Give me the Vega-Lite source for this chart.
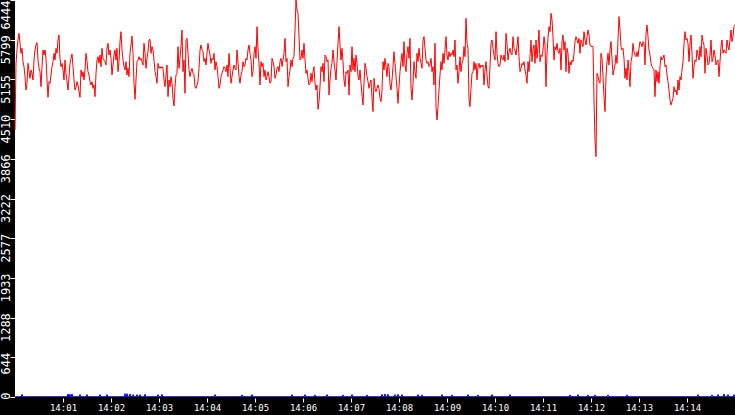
{
  "$schema": "https://vega.github.io/schema/vega-lite/v6.json",
  "width": 720,
  "height": 397,
  "autosize": {"type": "none"},
  "padding": {"left": 15, "top": 0, "right": 0, "bottom": 18},
  "background": "black",
  "view": {"fill": "white", "stroke": null},
  "config": {
    "axis": {
      "labelFont": "DejaVu Sans Mono",
      "labelFontSize": 9,
      "labelColor": "white",
      "tickColor": "white",
      "grid": false,
      "title": null,
      "labelFlush": false,
      "labelBound": false,
      "labelOverlap": false
    }
  },
  "datasets": {
    "red": [
      {"i":0,"v":4334},{"i":1,"v":5416},{"i":2,"v":5633},{"i":3,"v":5795},{"i":4,"v":5903},{"i":5,"v":5741},{"i":6,"v":5578},{"i":7,"v":5660},{"i":8,"v":5443},{"i":9,"v":5362},
      {"i":10,"v":5200},{"i":11,"v":4983},{"i":12,"v":5092},{"i":13,"v":5416},{"i":14,"v":5281},{"i":15,"v":5173},{"i":16,"v":5308},{"i":17,"v":5254},{"i":18,"v":5146},{"i":19,"v":5470},
      {"i":20,"v":5633},{"i":21,"v":5714},{"i":22,"v":5752},{"i":23,"v":5470},{"i":24,"v":5335},{"i":25,"v":5281},{"i":26,"v":5037},{"i":27,"v":5362},{"i":28,"v":5633},{"i":29,"v":5551},
      {"i":30,"v":5633},{"i":31,"v":5497},{"i":32,"v":5146},{"i":33,"v":4864},{"i":34,"v":5119},{"i":35,"v":5092},{"i":36,"v":5227},{"i":37,"v":5362},{"i":38,"v":5443},{"i":39,"v":5578},
      {"i":40,"v":5470},{"i":41,"v":5660},{"i":42,"v":5578},{"i":43,"v":5795},{"i":44,"v":5876},{"i":45,"v":5497},{"i":46,"v":5362},{"i":47,"v":5416},{"i":48,"v":5308},{"i":49,"v":5146},
      {"i":50,"v":5470},{"i":51,"v":5254},{"i":52,"v":5119},{"i":53,"v":4983},{"i":54,"v":5200},{"i":55,"v":5416},{"i":56,"v":5497},{"i":57,"v":5568},{"i":58,"v":5362},{"i":59,"v":5146},
      {"i":60,"v":4983},{"i":61,"v":5027},{"i":62,"v":5119},{"i":63,"v":5064},{"i":64,"v":4956},{"i":65,"v":4864},{"i":66,"v":5308},{"i":67,"v":5200},{"i":68,"v":5281},{"i":69,"v":5146},
      {"i":70,"v":5308},{"i":71,"v":5578},{"i":72,"v":5443},{"i":73,"v":5281},{"i":74,"v":5227},{"i":75,"v":5119},{"i":76,"v":5064},{"i":77,"v":5119},{"i":78,"v":5010},{"i":79,"v":5064},
      {"i":80,"v":4875},{"i":81,"v":5254},{"i":82,"v":5470},{"i":83,"v":5524},{"i":84,"v":5416},{"i":85,"v":5551},{"i":86,"v":5362},{"i":87,"v":5660},{"i":88,"v":5497},{"i":89,"v":5470},
      {"i":90,"v":5443},{"i":91,"v":5389},{"i":92,"v":5660},{"i":93,"v":5741},{"i":94,"v":5551},{"i":95,"v":5633},{"i":96,"v":5497},{"i":97,"v":5227},{"i":98,"v":5389},{"i":99,"v":5551},
      {"i":100,"v":5633},{"i":101,"v":5470},{"i":102,"v":5660},{"i":103,"v":5281},{"i":104,"v":5443},{"i":105,"v":5768},{"i":106,"v":5930},{"i":107,"v":5633},{"i":108,"v":5470},{"i":109,"v":5362},
      {"i":110,"v":5308},{"i":111,"v":5443},{"i":112,"v":5227},{"i":113,"v":5335},{"i":114,"v":5200},{"i":115,"v":5578},{"i":116,"v":5714},{"i":117,"v":5860},{"i":118,"v":5578},{"i":119,"v":5092},
      {"i":120,"v":4832},{"i":121,"v":5146},{"i":122,"v":5443},{"i":123,"v":5470},{"i":124,"v":5524},{"i":125,"v":5470},{"i":126,"v":5497},{"i":127,"v":5443},{"i":128,"v":5389},{"i":129,"v":5741},
      {"i":130,"v":5578},{"i":131,"v":5335},{"i":132,"v":5497},{"i":133,"v":5605},{"i":134,"v":5795},{"i":135,"v":5806},{"i":136,"v":5578},{"i":137,"v":5687},{"i":138,"v":5633},{"i":139,"v":5470},
      {"i":140,"v":5281},{"i":141,"v":5200},{"i":142,"v":5092},{"i":143,"v":5416},{"i":144,"v":5335},{"i":145,"v":5362},{"i":146,"v":5335},{"i":147,"v":5362},{"i":148,"v":5335},{"i":149,"v":5146},
      {"i":150,"v":5037},{"i":151,"v":5227},{"i":152,"v":5389},{"i":153,"v":4875},{"i":154,"v":5146},{"i":155,"v":5037},{"i":156,"v":5200},{"i":157,"v":5092},{"i":158,"v":4848},{"i":159,"v":4724},
      {"i":160,"v":5037},{"i":161,"v":5227},{"i":162,"v":5254},{"i":163,"v":5687},{"i":164,"v":5335},{"i":165,"v":5497},{"i":166,"v":5687},{"i":167,"v":5957},{"i":168,"v":5281},{"i":169,"v":5470},
      {"i":170,"v":4929},{"i":171,"v":5795},{"i":172,"v":5822},{"i":173,"v":5578},{"i":174,"v":5308},{"i":175,"v":5200},{"i":176,"v":5281},{"i":177,"v":5335},{"i":178,"v":5254},{"i":179,"v":5227},
      {"i":180,"v":5037},{"i":181,"v":5010},{"i":182,"v":5064},{"i":183,"v":5119},{"i":184,"v":5335},{"i":185,"v":5633},{"i":186,"v":5714},{"i":187,"v":5633},{"i":188,"v":5605},{"i":189,"v":5443},
      {"i":190,"v":5497},{"i":191,"v":5389},{"i":192,"v":5578},{"i":193,"v":5741},{"i":194,"v":5633},{"i":195,"v":5551},{"i":196,"v":5416},{"i":197,"v":5497},{"i":198,"v":5470},{"i":199,"v":5578},
      {"i":200,"v":5308},{"i":201,"v":5443},{"i":202,"v":5362},{"i":203,"v":5200},{"i":204,"v":5010},{"i":205,"v":5064},{"i":206,"v":5200},{"i":207,"v":5254},{"i":208,"v":5308},{"i":209,"v":5362},
      {"i":210,"v":5335},{"i":211,"v":5281},{"i":212,"v":5389},{"i":213,"v":5200},{"i":214,"v":5578},{"i":215,"v":5335},{"i":216,"v":5092},{"i":217,"v":5200},{"i":218,"v":5308},{"i":219,"v":5389},
      {"i":220,"v":5335},{"i":221,"v":5308},{"i":222,"v":5633},{"i":223,"v":5443},{"i":224,"v":5200},{"i":225,"v":5092},{"i":226,"v":5227},{"i":227,"v":5281},{"i":228,"v":5443},{"i":229,"v":5362},
      {"i":230,"v":5389},{"i":231,"v":5497},{"i":232,"v":5470},{"i":233,"v":5633},{"i":234,"v":5714},{"i":235,"v":5578},{"i":236,"v":5470},{"i":237,"v":5200},{"i":238,"v":5281},{"i":239,"v":5578},
      {"i":240,"v":5687},{"i":241,"v":5497},{"i":242,"v":6011},{"i":243,"v":5633},{"i":244,"v":5416},{"i":245,"v":5064},{"i":246,"v":5443},{"i":247,"v":5362},{"i":248,"v":5416},{"i":249,"v":5200},
      {"i":250,"v":5308},{"i":251,"v":5146},{"i":252,"v":5200},{"i":253,"v":5281},{"i":254,"v":5200},{"i":255,"v":5092},{"i":256,"v":5119},{"i":257,"v":5497},{"i":258,"v":5443},{"i":259,"v":5362},
      {"i":260,"v":5173},{"i":261,"v":5227},{"i":262,"v":5335},{"i":263,"v":5362},{"i":264,"v":5281},{"i":265,"v":5443},{"i":266,"v":5497},{"i":267,"v":5362},{"i":268,"v":5470},{"i":269,"v":5578},
      {"i":270,"v":5822},{"i":271,"v":5443},{"i":272,"v":5497},{"i":273,"v":5037},{"i":274,"v":5200},{"i":275,"v":5308},{"i":276,"v":5470},{"i":277,"v":5362},{"i":278,"v":5497},{"i":279,"v":5524},
      {"i":280,"v":5957},{"i":281,"v":6444},{"i":282,"v":6282},{"i":283,"v":6228},{"i":284,"v":5849},{"i":285,"v":5470},{"i":286,"v":5497},{"i":287,"v":5633},{"i":288,"v":5497},{"i":289,"v":5741},
      {"i":290,"v":5470},{"i":291,"v":5254},{"i":292,"v":5308},{"i":293,"v":5173},{"i":294,"v":5064},{"i":295,"v":5092},{"i":296,"v":5254},{"i":297,"v":5119},{"i":298,"v":5281},{"i":299,"v":5362},
      {"i":300,"v":5092},{"i":301,"v":4983},{"i":302,"v":5064},{"i":303,"v":4670},{"i":304,"v":4794},{"i":305,"v":5037},{"i":306,"v":5362},{"i":307,"v":5281},{"i":308,"v":5416},{"i":309,"v":5119},
      {"i":310,"v":5551},{"i":311,"v":5524},{"i":312,"v":5443},{"i":313,"v":5470},{"i":314,"v":4902},{"i":315,"v":5146},{"i":316,"v":5335},{"i":317,"v":5416},{"i":318,"v":5633},{"i":319,"v":5443},
      {"i":320,"v":5308},{"i":321,"v":5146},{"i":322,"v":5443},{"i":323,"v":5741},{"i":324,"v":6011},{"i":325,"v":5714},{"i":326,"v":5470},{"i":327,"v":5660},{"i":328,"v":5443},{"i":329,"v":5146},
      {"i":330,"v":5037},{"i":331,"v":5281},{"i":332,"v":5254},{"i":333,"v":5308},{"i":334,"v":4902},{"i":335,"v":5389},{"i":336,"v":5281},{"i":337,"v":5687},{"i":338,"v":5308},{"i":339,"v":5497},
      {"i":340,"v":5281},{"i":341,"v":5551},{"i":342,"v":5416},{"i":343,"v":5200},{"i":344,"v":5146},{"i":345,"v":5308},{"i":346,"v":5092},{"i":347,"v":4902},{"i":348,"v":4740},{"i":349,"v":5092},
      {"i":350,"v":5416},{"i":351,"v":5335},{"i":352,"v":5200},{"i":353,"v":5119},{"i":354,"v":5010},{"i":355,"v":5092},{"i":356,"v":5146},{"i":357,"v":4848},{"i":358,"v":4632},{"i":359,"v":5173},
      {"i":360,"v":5010},{"i":361,"v":4956},{"i":362,"v":5010},{"i":363,"v":5064},{"i":364,"v":5010},{"i":365,"v":4848},{"i":366,"v":4794},{"i":367,"v":4983},{"i":368,"v":5443},{"i":369,"v":5308},
      {"i":370,"v":5497},{"i":371,"v":5362},{"i":372,"v":5200},{"i":373,"v":5416},{"i":374,"v":5362},{"i":375,"v":5064},{"i":376,"v":4983},{"i":377,"v":5146},{"i":378,"v":5362},{"i":379,"v":5605},
      {"i":380,"v":5416},{"i":381,"v":5200},{"i":382,"v":5010},{"i":383,"v":4767},{"i":384,"v":5037},{"i":385,"v":5281},{"i":386,"v":5443},{"i":387,"v":5578},{"i":388,"v":5362},{"i":389,"v":5768},
      {"i":390,"v":5389},{"i":391,"v":5281},{"i":392,"v":5578},{"i":393,"v":5687},{"i":394,"v":5497},{"i":395,"v":5822},{"i":396,"v":5010},{"i":397,"v":4821},{"i":398,"v":5092},{"i":399,"v":5443},
      {"i":400,"v":5281},{"i":401,"v":5173},{"i":402,"v":5578},{"i":403,"v":5443},{"i":404,"v":5660},{"i":405,"v":5497},{"i":406,"v":5416},{"i":407,"v":5335},{"i":408,"v":5795},{"i":409,"v":5849},
      {"i":410,"v":5660},{"i":411,"v":5470},{"i":412,"v":5416},{"i":413,"v":5443},{"i":414,"v":5362},{"i":415,"v":5389},{"i":416,"v":5497},{"i":417,"v":5281},{"i":418,"v":5362},{"i":419,"v":5064},
      {"i":420,"v":5741},{"i":421,"v":4713},{"i":422,"v":4496},{"i":423,"v":4713},{"i":424,"v":4983},{"i":425,"v":5227},{"i":426,"v":5443},{"i":427,"v":5308},{"i":428,"v":5578},{"i":429,"v":5416},
      {"i":430,"v":5633},{"i":431,"v":5849},{"i":432,"v":5551},{"i":433,"v":5470},{"i":434,"v":5605},{"i":435,"v":5524},{"i":436,"v":5578},{"i":437,"v":5551},{"i":438,"v":5633},{"i":439,"v":5524},
      {"i":440,"v":5795},{"i":441,"v":5308},{"i":442,"v":5389},{"i":443,"v":5092},{"i":444,"v":5281},{"i":445,"v":5524},{"i":446,"v":5281},{"i":447,"v":5416},{"i":448,"v":5470},{"i":449,"v":5687},
      {"i":450,"v":5524},{"i":451,"v":6146},{"i":452,"v":5741},{"i":453,"v":5660},{"i":454,"v":4821},{"i":455,"v":4713},{"i":456,"v":5010},{"i":457,"v":5254},{"i":458,"v":5281},{"i":459,"v":5443},
      {"i":460,"v":5308},{"i":461,"v":5416},{"i":462,"v":5146},{"i":463,"v":5362},{"i":464,"v":5416},{"i":465,"v":5335},{"i":466,"v":5389},{"i":467,"v":5362},{"i":468,"v":5389},{"i":469,"v":5064},
      {"i":470,"v":5308},{"i":471,"v":5443},{"i":472,"v":5227},{"i":473,"v":5037},{"i":474,"v":5010},{"i":475,"v":5362},{"i":476,"v":5741},{"i":477,"v":5795},{"i":478,"v":5660},{"i":479,"v":5551},
      {"i":480,"v":5470},{"i":481,"v":5930},{"i":482,"v":5578},{"i":483,"v":5416},{"i":484,"v":5362},{"i":485,"v":5389},{"i":486,"v":5551},{"i":487,"v":5497},{"i":488,"v":5470},{"i":489,"v":5551},
      {"i":490,"v":5443},{"i":491,"v":5903},{"i":492,"v":5741},{"i":493,"v":5470},{"i":494,"v":5605},{"i":495,"v":5660},{"i":496,"v":5578},{"i":497,"v":5551},{"i":498,"v":5849},{"i":499,"v":5660},
      {"i":500,"v":5633},{"i":501,"v":5551},{"i":502,"v":5687},{"i":503,"v":5849},{"i":504,"v":5524},{"i":505,"v":5281},{"i":506,"v":5335},{"i":507,"v":5416},{"i":508,"v":5389},{"i":509,"v":5443},
      {"i":510,"v":5308},{"i":511,"v":5227},{"i":512,"v":5092},{"i":513,"v":5443},{"i":514,"v":5281},{"i":515,"v":5524},{"i":516,"v":5795},{"i":517,"v":5443},{"i":518,"v":5633},{"i":519,"v":5714},
      {"i":520,"v":5416},{"i":521,"v":5795},{"i":522,"v":5497},{"i":523,"v":5687},{"i":524,"v":5957},{"i":525,"v":5443},{"i":526,"v":5551},{"i":527,"v":5524},{"i":528,"v":5633},{"i":529,"v":5849},
      {"i":530,"v":5714},{"i":531,"v":5037},{"i":532,"v":5578},{"i":533,"v":5822},{"i":534,"v":6011},{"i":535,"v":5930},{"i":536,"v":6228},{"i":537,"v":6119},{"i":538,"v":5849},{"i":539,"v":5470},
      {"i":540,"v":5687},{"i":541,"v":5633},{"i":542,"v":5741},{"i":543,"v":5605},{"i":544,"v":5578},{"i":545,"v":5660},{"i":546,"v":5308},{"i":547,"v":5768},{"i":548,"v":5876},{"i":549,"v":5633},
      {"i":550,"v":5768},{"i":551,"v":5281},{"i":552,"v":5660},{"i":553,"v":5578},{"i":554,"v":5254},{"i":555,"v":5443},{"i":556,"v":5389},{"i":557,"v":5470},{"i":558,"v":5443},{"i":559,"v":5578},
      {"i":560,"v":5768},{"i":561,"v":5849},{"i":562,"v":5795},{"i":563,"v":5741},{"i":564,"v":5822},{"i":565,"v":5578},{"i":566,"v":5795},{"i":567,"v":5741},{"i":568,"v":5687},{"i":569,"v":5930},
      {"i":570,"v":5795},{"i":571,"v":5714},{"i":572,"v":5849},{"i":573,"v":5957},{"i":574,"v":5876},{"i":575,"v":5714},{"i":576,"v":5687},{"i":577,"v":5697},{"i":578,"v":5687},{"i":579,"v":4821},
      {"i":580,"v":4172},{"i":581,"v":3901},{"i":582,"v":5254},{"i":583,"v":5200},{"i":584,"v":5119},{"i":585,"v":5092},{"i":586,"v":5578},{"i":587,"v":5497},{"i":588,"v":5200},{"i":589,"v":4875},
      {"i":590,"v":4632},{"i":591,"v":5200},{"i":592,"v":5443},{"i":593,"v":5578},{"i":594,"v":5389},{"i":595,"v":5633},{"i":596,"v":5768},{"i":597,"v":5497},{"i":598,"v":5227},{"i":599,"v":5308},
      {"i":600,"v":5389},{"i":601,"v":5551},{"i":602,"v":5416},{"i":603,"v":5795},{"i":604,"v":6174},{"i":605,"v":5957},{"i":606,"v":5687},{"i":607,"v":5633},{"i":608,"v":5660},{"i":609,"v":5497},
      {"i":610,"v":5173},{"i":611,"v":5335},{"i":612,"v":5146},{"i":613,"v":5470},{"i":614,"v":5281},{"i":615,"v":5037},{"i":616,"v":5443},{"i":617,"v":5524},{"i":618,"v":5741},{"i":619,"v":5605},
      {"i":620,"v":5551},{"i":621,"v":5524},{"i":622,"v":5605},{"i":623,"v":5524},{"i":624,"v":5660},{"i":625,"v":5768},{"i":626,"v":5741},{"i":627,"v":5687},{"i":628,"v":5768},{"i":629,"v":5741},
      {"i":630,"v":5389},{"i":631,"v":5903},{"i":632,"v":6038},{"i":633,"v":5849},{"i":634,"v":5633},{"i":635,"v":5551},{"i":636,"v":5416},{"i":637,"v":5362},{"i":638,"v":5335},{"i":639,"v":5308},
      {"i":640,"v":4875},{"i":641,"v":5308},{"i":642,"v":5119},{"i":643,"v":5281},{"i":644,"v":5092},{"i":645,"v":5362},{"i":646,"v":5524},{"i":647,"v":5470},{"i":648,"v":5497},{"i":649,"v":5551},
      {"i":650,"v":5362},{"i":651,"v":5389},{"i":652,"v":5227},{"i":653,"v":5119},{"i":654,"v":4983},{"i":655,"v":4821},{"i":656,"v":4740},{"i":657,"v":4794},{"i":658,"v":4848},{"i":659,"v":5037},
      {"i":660,"v":4956},{"i":661,"v":4983},{"i":662,"v":4902},{"i":663,"v":5146},{"i":664,"v":4983},{"i":665,"v":5200},{"i":666,"v":5146},{"i":667,"v":5308},{"i":668,"v":5443},{"i":669,"v":5741},
      {"i":670,"v":5930},{"i":671,"v":5795},{"i":672,"v":5822},{"i":673,"v":5741},{"i":674,"v":5443},{"i":675,"v":5741},{"i":676,"v":5876},{"i":677,"v":5578},{"i":678,"v":5173},{"i":679,"v":5362},
      {"i":680,"v":5470},{"i":681,"v":5443},{"i":682,"v":5633},{"i":683,"v":5551},{"i":684,"v":5470},{"i":685,"v":5687},{"i":686,"v":5524},{"i":687,"v":5876},{"i":688,"v":5768},{"i":689,"v":5714},
      {"i":690,"v":5254},{"i":691,"v":5660},{"i":692,"v":5551},{"i":693,"v":5389},{"i":694,"v":5416},{"i":695,"v":5551},{"i":696,"v":5795},{"i":697,"v":5443},{"i":698,"v":5497},{"i":699,"v":5633},
      {"i":700,"v":5551},{"i":701,"v":5389},{"i":702,"v":5443},{"i":703,"v":5470},{"i":704,"v":5200},{"i":705,"v":5443},{"i":706,"v":5687},{"i":707,"v":5795},{"i":708,"v":5578},{"i":709,"v":5633},
      {"i":710,"v":5605},{"i":711,"v":5578},{"i":712,"v":5795},{"i":713,"v":5687},{"i":714,"v":5633},{"i":715,"v":5795},{"i":716,"v":5957},{"i":717,"v":5768},{"i":718,"v":5849},{"i":719,"v":6011},
      {"i":720,"v":6038}
    ],
    "blue": [
      {"i":0,"v":0},{"i":6,"v":0},{"i":7,"v":45},{"i":8,"v":0},{"i":52,"v":0},{"i":53,"v":50},{"i":54,"v":0},{"i":55,"v":45},{"i":56,"v":0},{"i":57,"v":50},{"i":58,"v":0},
      {"i":64,"v":0},{"i":65,"v":40},{"i":66,"v":0},{"i":71,"v":0},{"i":72,"v":40},{"i":73,"v":0},{"i":84,"v":0},{"i":85,"v":40},{"i":86,"v":0},{"i":91,"v":0},{"i":92,"v":40},{"i":93,"v":0},
      {"i":109,"v":0},{"i":110,"v":55},{"i":111,"v":0},{"i":112,"v":55},{"i":113,"v":0},{"i":114,"v":0},{"i":115,"v":50},{"i":116,"v":0},{"i":117,"v":0},{"i":118,"v":40},{"i":119,"v":0},
      {"i":121,"v":0},{"i":122,"v":40},{"i":123,"v":0},{"i":124,"v":0},{"i":125,"v":40},{"i":126,"v":0},{"i":129,"v":0},{"i":130,"v":45},{"i":131,"v":0},{"i":142,"v":0},{"i":143,"v":40},{"i":144,"v":0},
      {"i":146,"v":0},{"i":147,"v":45},{"i":148,"v":0},{"i":199,"v":0},{"i":200,"v":40},{"i":201,"v":0},{"i":226,"v":0},{"i":227,"v":35},{"i":228,"v":0},{"i":236,"v":0},{"i":237,"v":40},{"i":238,"v":0},
      {"i":276,"v":0},{"i":277,"v":40},{"i":278,"v":0},{"i":289,"v":0},{"i":290,"v":40},{"i":291,"v":0},{"i":299,"v":0},{"i":300,"v":35},{"i":301,"v":0},{"i":311,"v":0},{"i":312,"v":40},{"i":313,"v":0},
      {"i":327,"v":0},{"i":328,"v":35},{"i":329,"v":0},{"i":336,"v":0},{"i":337,"v":40},{"i":338,"v":0},{"i":351,"v":0},{"i":352,"v":35},{"i":353,"v":0},{"i":366,"v":0},{"i":367,"v":45},{"i":368,"v":0},
      {"i":369,"v":0},{"i":370,"v":50},{"i":371,"v":0},{"i":372,"v":0},{"i":373,"v":45},{"i":374,"v":0},{"i":379,"v":0},{"i":380,"v":40},{"i":381,"v":0},{"i":382,"v":0},{"i":383,"v":45},{"i":384,"v":0},
      {"i":386,"v":0},{"i":387,"v":40},{"i":388,"v":0},{"i":402,"v":0},{"i":403,"v":40},{"i":404,"v":0},{"i":406,"v":0},{"i":407,"v":35},{"i":408,"v":0},{"i":426,"v":0},{"i":427,"v":40},{"i":428,"v":0},
      {"i":436,"v":0},{"i":437,"v":35},{"i":438,"v":0},{"i":452,"v":0},{"i":453,"v":40},{"i":454,"v":0},{"i":462,"v":0},{"i":463,"v":35},{"i":464,"v":0},{"i":476,"v":0},{"i":477,"v":40},{"i":478,"v":0},
      {"i":494,"v":0},{"i":495,"v":40},{"i":496,"v":0},{"i":554,"v":0},{"i":555,"v":35},{"i":556,"v":0},{"i":562,"v":0},{"i":563,"v":40},{"i":564,"v":0},{"i":572,"v":0},{"i":573,"v":35},{"i":574,"v":0},
      {"i":579,"v":0},{"i":580,"v":35},{"i":581,"v":0},{"i":592,"v":0},{"i":593,"v":35},{"i":594,"v":0},{"i":611,"v":0},{"i":612,"v":35},{"i":613,"v":0},{"i":682,"v":0},{"i":683,"v":40},{"i":684,"v":0},
      {"i":696,"v":0},{"i":697,"v":35},{"i":698,"v":0},{"i":702,"v":0},{"i":703,"v":40},{"i":704,"v":0},{"i":708,"v":0},{"i":709,"v":50},{"i":710,"v":0},{"i":712,"v":0},{"i":713,"v":40},{"i":714,"v":0},
      {"i":718,"v":0},{"i":719,"v":40},{"i":720,"v":0}
    ]
  },
  "layer": [
    {
      "data": {"name": "blue"},
      "mark": {"type": "line", "color": "#0000ff", "strokeWidth": 1},
      "encoding": {
        "x": {
          "field": "i",
          "type": "quantitative",
          "scale": {"domain": [0, 720], "nice": false, "zero": false},
          "axis": {
            "values": [48, 96, 144, 192, 240, 288, 336, 384, 432, 480, 528, 576, 624, 672],
            "tickCount": 20,
            "labelExpr": "'14:' + (datum.value < 480 ? '0' : '') + (datum.value / 48)",
            "tickSize": 5,
            "labelPadding": 1,
            "domainColor": "black",
            "domainWidth": 2,
            "zindex": 1
          }
        },
        "y": {
          "field": "v",
          "type": "quantitative",
          "scale": {"domain": [0, 6444], "nice": false},
          "axis": {
            "values": [0, 644, 1288, 1933, 2577, 3222, 3866, 4510, 5155, 5799, 6444],
            "tickCount": 12,
            "format": "d",
            "labelFont": "Liberation Sans Narrow, DejaVu Sans Mono",
            "labelFontSize": 12,
            "labelAngle": -90,
            "labelAlign": "right",
            "labelBaseline": "alphabetic",
            "labelOffset": {"condition": {"test": "datum.value > 6400", "value": 0}, "value": -5},
            "tickSize": 5,
            "labelPadding": 1,
            "domain": false
          }
        }
      }
    },
    {
      "data": {"name": "red"},
      "mark": {"type": "line", "color": "#ff0000", "strokeWidth": 1},
      "encoding": {
        "x": {"field": "i", "type": "quantitative"},
        "y": {"field": "v", "type": "quantitative"}
      }
    }
  ]
}
